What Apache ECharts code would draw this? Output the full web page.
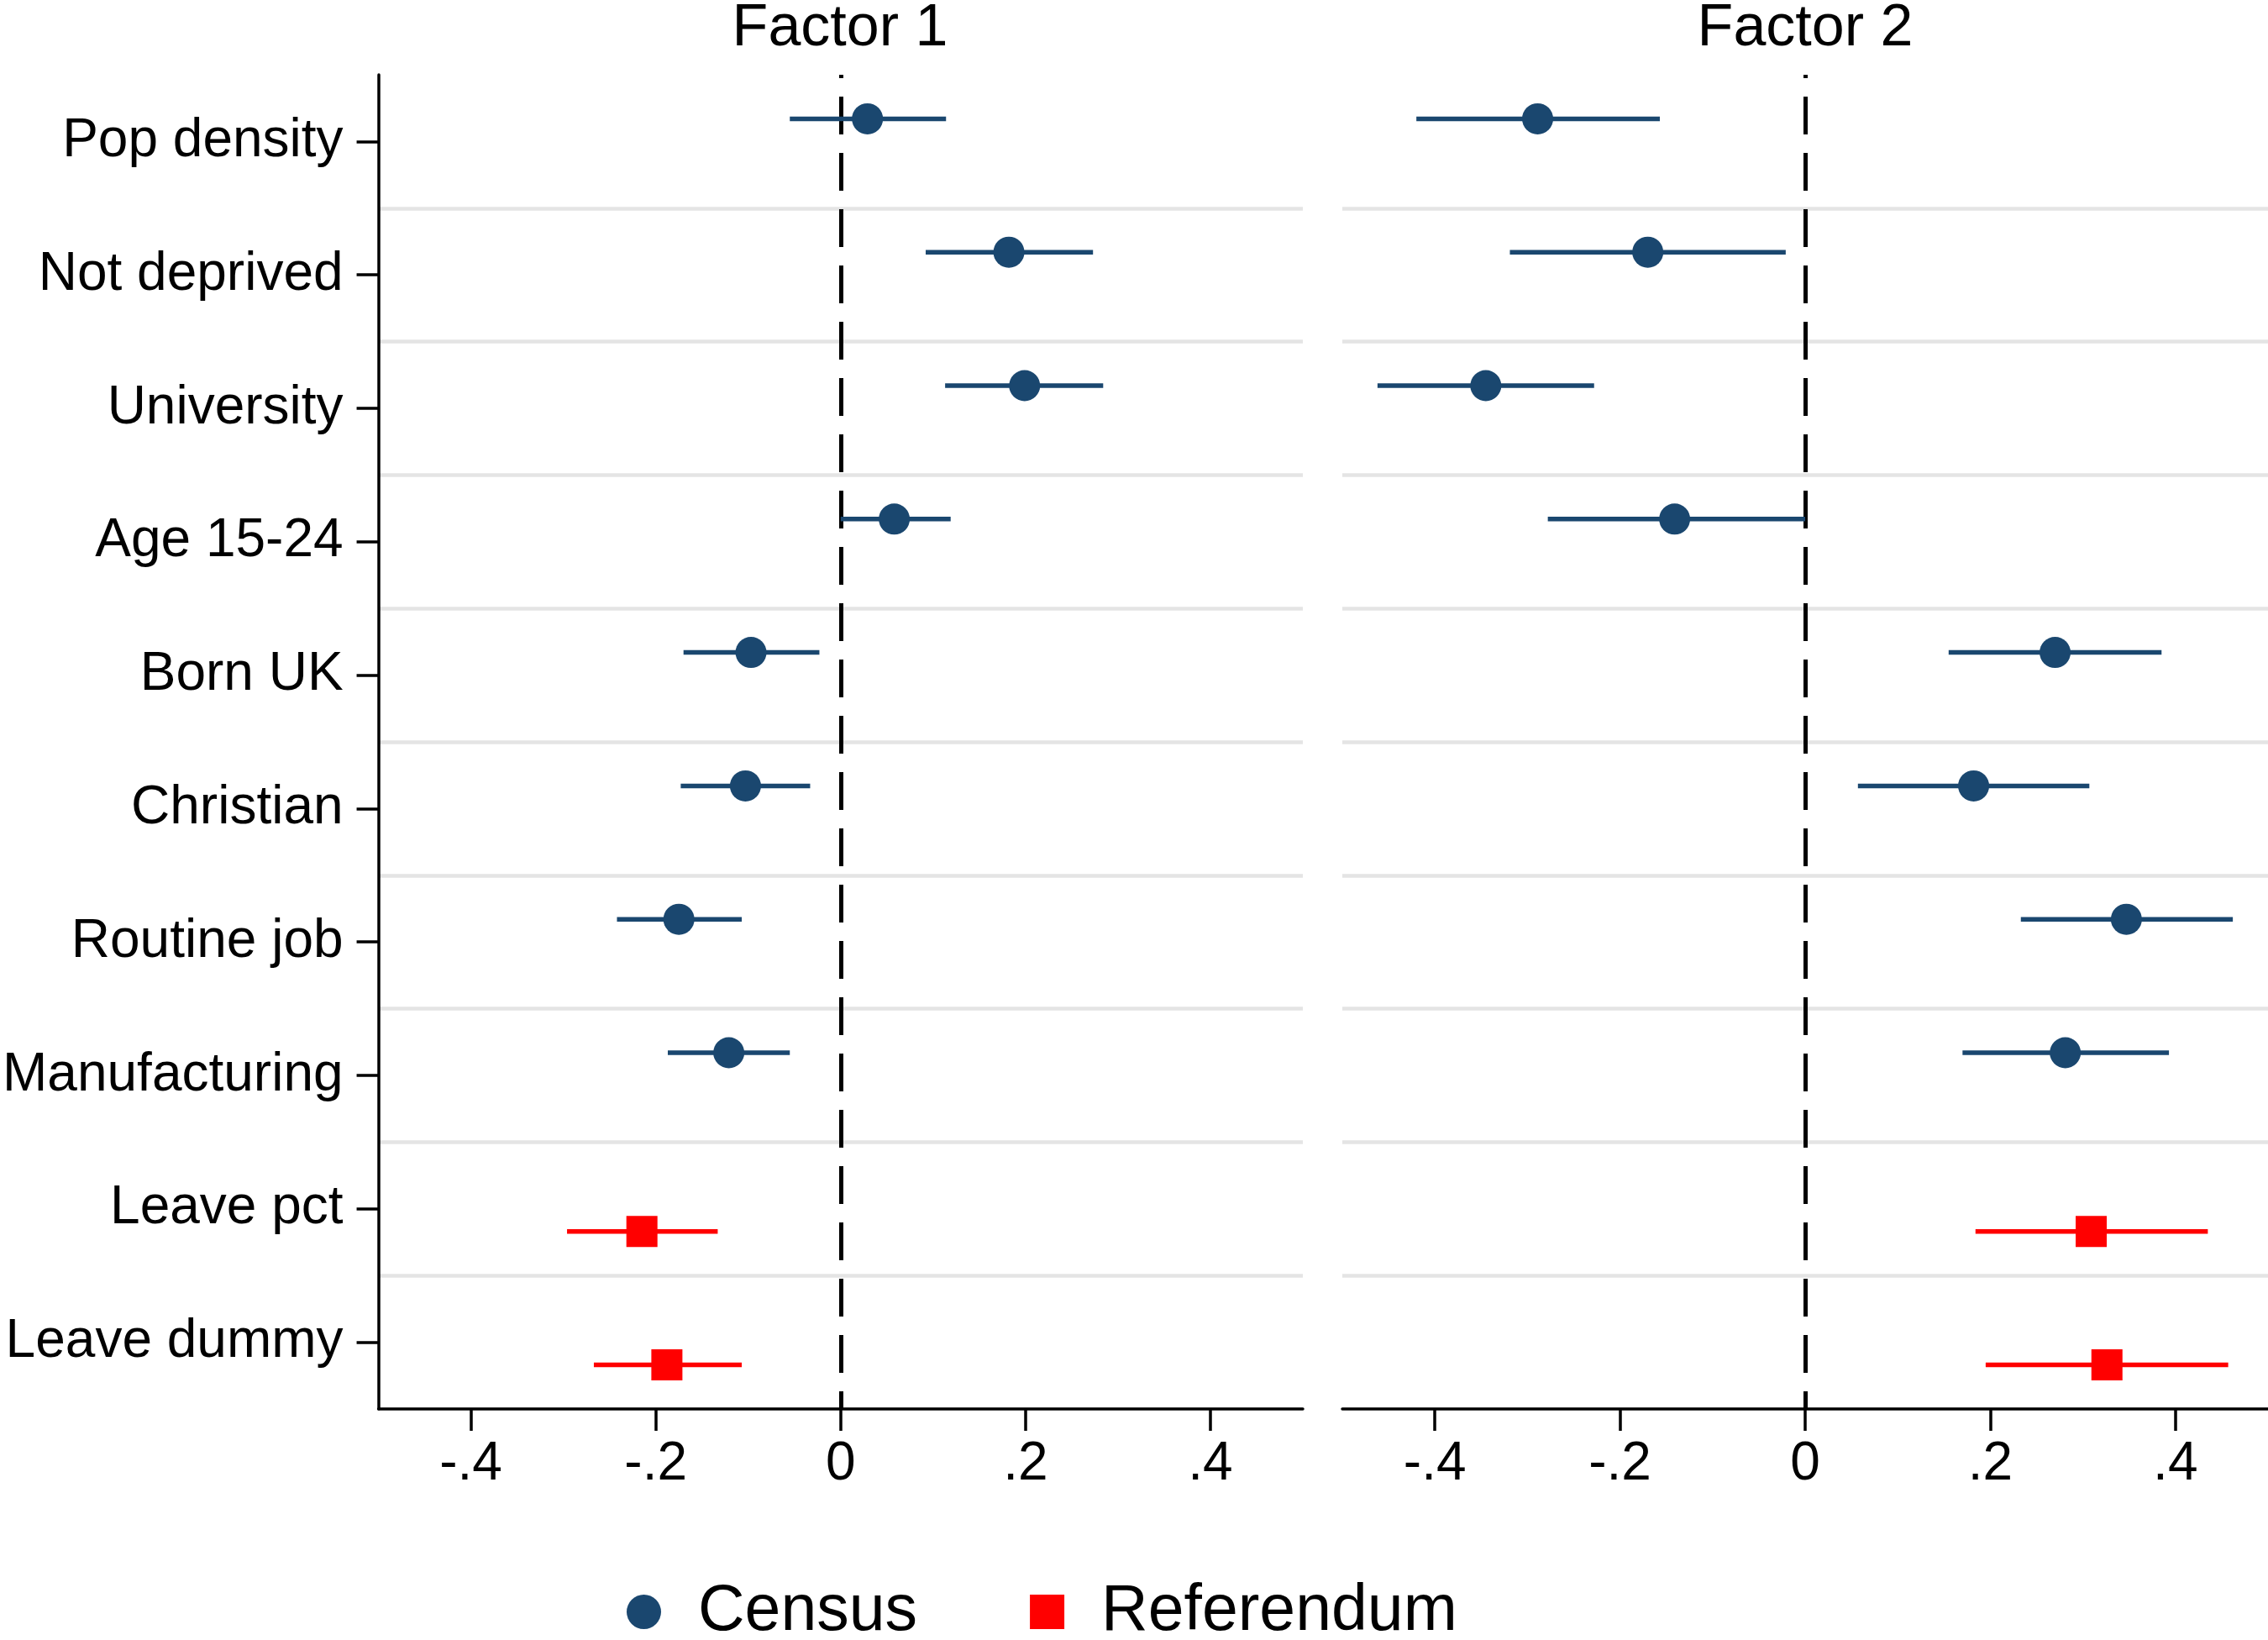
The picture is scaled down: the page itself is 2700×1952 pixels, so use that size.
<!DOCTYPE html>
<html><head><meta charset="utf-8">
<script src="https://cdn.jsdelivr.net/npm/echarts@6/dist/echarts.min.js"></script>
<style>html,body{margin:0;padding:0;background:#fff}#c{width:2700px;height:1952px}</style>
</head><body><div id="c"></div>
<script>
// ---- data ----
const categories = ['Pop density','Not deprived','University','Age 15-24','Born UK','Christian','Routine job','Manufacturing','Leave pct','Leave dummy'];
const source = ['Census','Census','Census','Census','Census','Census','Census','Census','Referendum','Referendum'];
const panelTitles = ['Factor 1','Factor 2'];
const f1Est = [0.029, 0.182, 0.199, 0.058, -0.097, -0.103, -0.175, -0.121, -0.215, -0.188];
const f1Lo  = [-0.055, 0.092, 0.113, 0.000, -0.170, -0.173, -0.242, -0.187, -0.296, -0.267];
const f1Hi  = [0.114, 0.273, 0.284, 0.119, -0.023, -0.033, -0.107, -0.055, -0.133, -0.107];
const f2Est = [-0.289, -0.170, -0.345, -0.141, 0.270, 0.182, 0.347, 0.281, 0.309, 0.326];
const f2Lo  = [-0.420, -0.319, -0.462, -0.278, 0.155, 0.057, 0.233, 0.170, 0.184, 0.195];
const f2Hi  = [-0.157, -0.021, -0.228, 0.000, 0.385, 0.307, 0.462, 0.393, 0.435, 0.457];
const xTicks = [-0.4, -0.2, 0, 0.2, 0.4];
const groups = ['Census','Referendum'];

// ---- style ----
const FONT = "'Liberation Sans', Arial, sans-serif";
const groupStyle = {
  Census: {color:'#1a476f', symbol:'circle', offset:-0.17},
  Referendum: {color:'#ff0000', symbol:'rect', offset:0.17}
};
const panels = [
  {est:f1Est, lo:f1Lo, hi:f1Hi},
  {est:f2Est, lo:f2Lo, hi:f2Hi}
];
const yTickVals = categories.map((c,i)=>i+1);

const fmtX = v => { if (Math.abs(v) < 1e-9) return '0'; const s = Math.abs(v).toFixed(1).replace(/^0/,''); return (v<0?'-':'') + s; };

const grids = [
  {left:449, width:1102, top:89, bottom:275},
  {left:1598, width:1102, top:89, bottom:275}
];

const xAxes = [0,1].map(g => ({
  type:'value', gridIndex:g, min:-0.5, max:0.5,
  axisLine:{show:true, onZero:false, lineStyle:{color:'#000', width:3.5}},
  axisTick:{show:true, customValues:xTicks, length:26, lineStyle:{color:'#000', width:3.5}},
  axisLabel:{customValues:xTicks, formatter:fmtX, fontSize:64, fontFamily:FONT, color:'#000', margin:34},
  splitLine:{show:false}
}));

const yAxes = [];
[0,1].forEach(g => {
  yAxes.push({
    type:'value', gridIndex:g, min:0.5, max:10.5, inverse:true, position:'left',
    axisLine:{show:g===0, onZero:false, lineStyle:{color:'#000', width:3.5}},
    axisTick:{show:g===0, customValues:yTickVals, length:26, lineStyle:{color:'#000', width:3.5}},
    axisLabel:{show:g===0, customValues:yTickVals, formatter:v => categories[Math.round(v)-1], fontSize:64, fontFamily:FONT, color:'#000', margin:42, padding:[6,0,0,0]},
    splitLine:{show:false}
  });
  yAxes.push({
    type:'value', gridIndex:g, min:0, max:10, interval:1, inverse:true,
    axisLine:{show:false, onZero:false}, axisTick:{show:false}, axisLabel:{show:false},
    splitLine:{show:true, showMinLine:false, showMaxLine:false, lineStyle:{color:'#e4e4e4', width:4.5}}
  });
});

const series = [];
panels.forEach((p, g) => {
  // zero reference line
  series.push({
    type:'scatter', name:'zero'+g, xAxisIndex:g, yAxisIndex:g*2, data:[], z:1,
    markLine:{silent:true, z:1, symbol:['none','none'], label:{show:false}, animation:false,
      lineStyle:{color:'#000', width:5, type:[45,22], dashOffset:41},
      emphasis:{disabled:true},
      data:[{xAxis:0}]}
  });
  groups.forEach(gr => {
    const st = groupStyle[gr];
    const idx = categories.map((c,i)=>i).filter(i => source[i] === gr);
    series.push({
      type:'custom', name:gr+' CI', xAxisIndex:g, yAxisIndex:g*2, z:2, silent:true,
      encode:{x:[0,1], y:2},
      data: idx.map(i => [p.lo[i], p.hi[i], i+1+st.offset]),
      renderItem: (params, api) => {
        const a = api.coord([api.value(0), api.value(2)]);
        const b = api.coord([api.value(1), api.value(2)]);
        return {type:'line', shape:{x1:a[0], y1:a[1], x2:b[0], y2:b[1]}, style:{stroke:st.color, lineWidth:5.5}};
      }
    });
    series.push({
      type:'scatter', name:gr, xAxisIndex:g, yAxisIndex:g*2, z:3,
      symbol:st.symbol, symbolSize:37, itemStyle:{color:st.color, opacity:1},
      data: idx.map(i => [p.est[i], i+1+st.offset])
    });
  });
});

const chart = echarts.init(document.getElementById('c'), null, {renderer:'canvas'});
chart.setOption({
  animation:false,
  backgroundColor:'#fff',
  grid:grids,
  xAxis:xAxes,
  yAxis:yAxes,
  legend:{
    data:[{name:'Census', icon:'circle'},{name:'Referendum', icon:'rect'}],
    left:746, top:1880, itemWidth:41, itemHeight:41, itemGap:134, padding:0, selectedMode:false,
    textStyle:{fontSize:77, fontFamily:FONT, color:'#000', padding:[0,0,0,39]}
  },
  graphic: panelTitles.map((t,g) => ({
    type:'text', x:[1000, 2149][g], y:35,
    style:{text:t, fontSize:70, fontFamily:FONT, fill:'#000', align:'center', verticalAlign:'middle'}
  })),
  series:series
});
</script></body></html>
